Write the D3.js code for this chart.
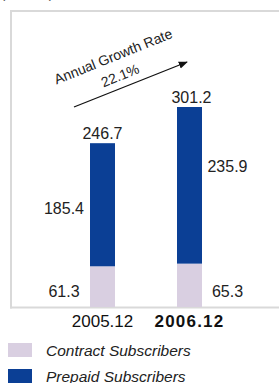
<!DOCTYPE html>
<html>
<head>
<meta charset="utf-8">
<script src="https://cdn.jsdelivr.net/npm/d3@7"></script>
<style>
  body { margin: 0; background: #fff; }
  svg { display: block; font-family: "Liberation Sans", Arial, sans-serif; }
</style>
</head>
<body>
<div id="chart"></div>
<script>
// data
const periods = ['2005.12', '2006.12'];
const contract = [61.3, 65.3];
const prepaid = [185.4, 235.9];
const totals = [246.7, 301.2];
const seriesNames = ['Contract Subscribers', 'Prepaid Subscribers'];
const growthLabel = ['Annual Growth Rate', '22.1%'];

const colors = ['#d9cfe1', '#0b3f95'];
const W = 280, H = 383;

const svg = d3.select('#chart').append('svg').attr('width', W).attr('height', H);

const x = d3.scalePoint().domain(periods).range([102.5, 189.5]);
const y = d3.scaleLinear().domain([0, 400]).range([307, 41.4]);
const barW = 25;

// unit label, mostly cut off at the top
svg.append('text').attr('x', 1).attr('y', -2)
    .attr('font-size', 13).attr('fill', '#444').text('(Millions)');

// frame
const frame = svg.append('g').attr('stroke', '#d9d9d9').attr('stroke-width', 2);
frame.append('line').attr('x1', 11).attr('y1', 11).attr('x2', 279).attr('y2', 11);
frame.append('line').attr('x1', 11).attr('y1', 10).attr('x2', 11).attr('y2', 308.5);
frame.append('line').attr('x1', 10).attr('y1', 307.5).attr('x2', 279).attr('y2', 307.5);

// stacked bars
const stack = periods.map((p, i) => ({ p, c: contract[i], pp: prepaid[i], t: totals[i] }));
svg.selectAll('.contract').data(stack).join('rect')
    .attr('x', d => x(d.p) - barW / 2).attr('width', barW)
    .attr('y', d => y(d.c)).attr('height', d => y(0) - y(d.c))
    .attr('fill', colors[0]);
svg.selectAll('.prepaid').data(stack).join('rect')
    .attr('x', d => x(d.p) - barW / 2).attr('width', barW)
    .attr('y', d => y(d.c + d.pp)).attr('height', d => y(d.c) - y(d.c + d.pp))
    .attr('fill', colors[1]);

const lbl = svg.append('g').attr('font-size', 16).attr('fill', '#222').attr('text-anchor', 'middle');
// totals
lbl.selectAll('.tot').data(stack).join('text')
    .attr('x', (d, i) => x(d.p) + (i ? 2 : 0)).attr('y', d => y(d.t) - 4)
    .text(d => d.t.toFixed(1));
// side labels: left of first bar, right of second
const side = (i) => x(periods[i]) + (i ? 38 : -38.5);
const prepaidLabelY = [214, 172];
lbl.selectAll('.pp').data(stack).join('text')
    .attr('x', (d, i) => side(i)).attr('y', (d, i) => prepaidLabelY[i])
    .text(d => d.pp.toFixed(1));
lbl.selectAll('.cc').data(stack).join('text')
    .attr('x', (d, i) => side(i)).attr('y', y(0) - 10)
    .text(d => d.c.toFixed(1));

// x labels
svg.append('g').attr('font-size', 17).attr('fill', '#111').attr('text-anchor', 'middle')
  .selectAll('text').data(periods).join('text')
    .attr('x', d => x(d)).attr('y', 327)
    .attr('font-weight', (d, i) => i === periods.length - 1 ? 'bold' : 'normal')
    .attr('letter-spacing', (d, i) => i === periods.length - 1 ? 1.2 : 0)
    .text(d => d);

// growth arrow
svg.append('defs').append('marker')
    .attr('id', 'arr').attr('viewBox', '0 0 10 10').attr('refX', 9).attr('refY', 5)
    .attr('markerWidth', 7).attr('markerHeight', 7).attr('orient', 'auto')
  .append('path').attr('d', 'M0,1L10,5L0,9z').attr('fill', '#111');
svg.append('line').attr('x1', 74).attr('y1', 107).attr('x2', 187).attr('y2', 62)
    .attr('stroke', '#111').attr('stroke-width', 1.3).attr('marker-end', 'url(#arr)');
const g = svg.append('g').attr('font-size', 14).attr('fill', '#222').attr('text-anchor', 'middle');
g.append('text').attr('transform', 'translate(115,61) rotate(-22)').text(growthLabel[0]);
g.append('text').attr('transform', 'translate(122,80) rotate(-22)').text(growthLabel[1]);

// legend
const leg = svg.append('g').selectAll('g').data(seriesNames).join('g')
    .attr('transform', (d, i) => `translate(8,${343 + i * 26})`);
leg.append('rect').attr('width', 24).attr('height', 14).attr('fill', (d, i) => colors[i]);
leg.append('text').attr('x', 38).attr('y', 13).attr('font-size', 15.5)
    .attr('font-style', 'italic').attr('fill', '#222').text(d => d);
</script>
</body>
</html>
